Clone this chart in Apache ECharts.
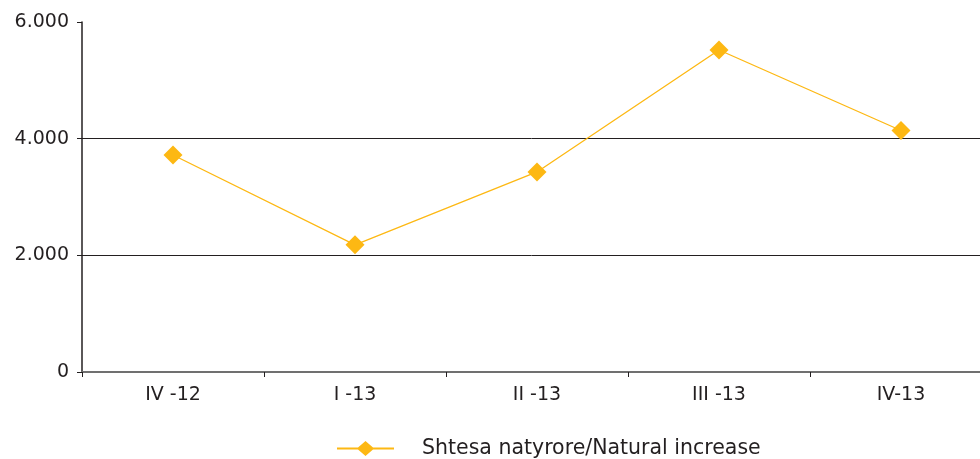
<!DOCTYPE html>
<html>
<head>
<meta charset="utf-8">
<script src="https://cdn.jsdelivr.net/npm/echarts@6/dist/echarts.min.js"></script>
<style>html,body{margin:0;padding:0;background:#fff}#c{width:980px;height:459px}</style>
</head>
<body>
<div id="c"></div>
<script>
const categories = ['IV -12', 'I -13', 'II -13', 'III -13', 'IV-13'];
const naturalIncrease = [3720, 2180, 3430, 5520, 4140];
const seriesName = 'Shtesa natyrore/Natural increase';
const yTicks = [0, 2000, 4000, 6000];

const chart = echarts.init(document.getElementById('c'));
const font = 'DejaVu Sans';
chart.setOption({
  animation: false,
  backgroundColor: '#fff',
  grid: { left: 82, top: 22, width: 910, height: 350, containLabel: false, outerBoundsMode: 'none' },
  legend: {
    top: 438, left: 337, padding: 0,
    itemWidth: 57, itemHeight: 15, itemGap: 10,
    icon: 'path://M0,6.5H21L28.5,0L36,6.5H57V8.5H36L28.5,15L21,8.5H0Z',
    textStyle: { fontFamily: font, fontSize: 20.5, color: '#231f20', padding: [0, 0, 0, 23] },
    data: [seriesName]
  },
  xAxis: {
    type: 'category', data: categories, boundaryGap: true,
    axisLine: { lineStyle: { color: '#707070', width: 2 } },
    axisTick: { show: true, length: 5, lineStyle: { color: '#231f20' } },
    axisLabel: { fontFamily: font, fontSize: 19, color: '#231f20', margin: 14 }
  },
  yAxis: {
    type: 'value', min: 0, max: 6000, interval: 2000,
    axisLine: { show: true, lineStyle: { color: '#231f20', width: 1.5 } },
    axisTick: { show: true, length: 5, lineStyle: { color: '#231f20' } },
    splitLine: { show: true, showMaxLine: false, lineStyle: { color: '#231f20', width: 1 } },
    axisLabel: {
      fontFamily: font, fontSize: 19, color: '#231f20', margin: 13,
      formatter: v => yTicks.includes(v) ? (v === 0 ? '0' : (v / 1000).toFixed(3)) : ''
    }
  },
  series: [{
    name: seriesName, type: 'line', data: naturalIncrease,
    symbol: 'diamond', symbolSize: 19,
    lineStyle: { color: '#fdb813', width: 1.3 },
    itemStyle: { color: '#fdb813' }
  }]
});
</script>
</body>
</html>
